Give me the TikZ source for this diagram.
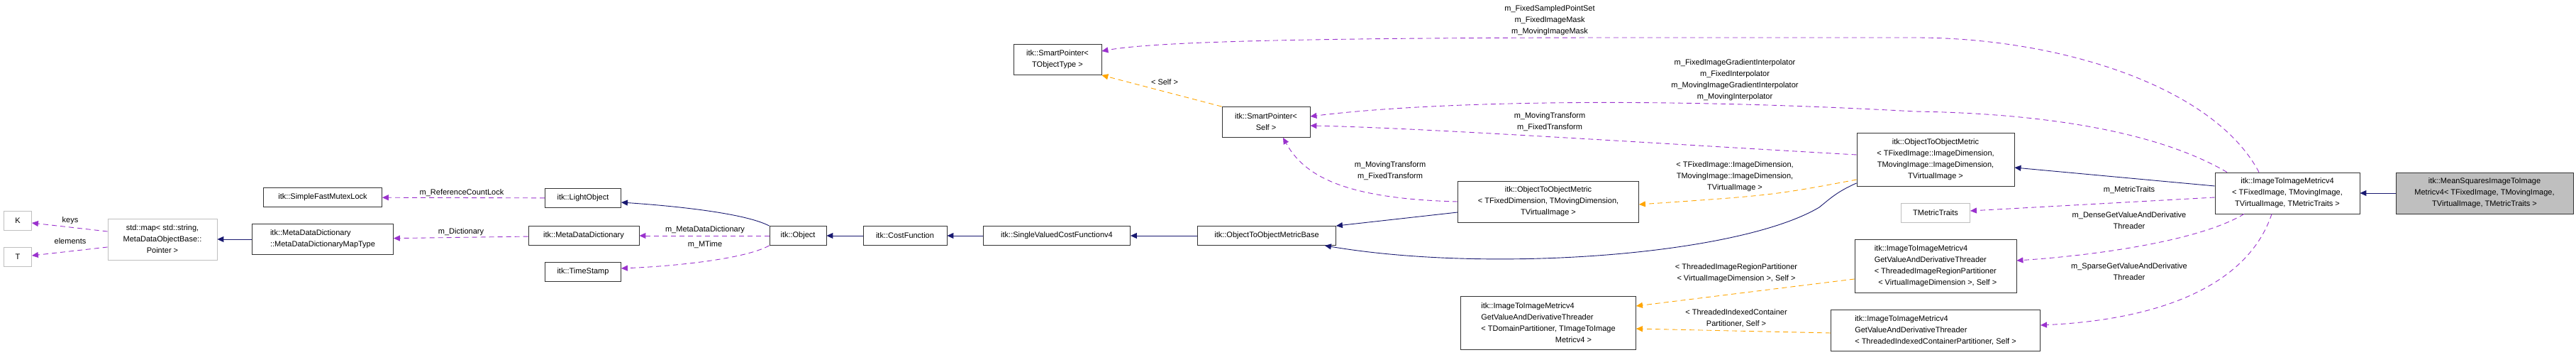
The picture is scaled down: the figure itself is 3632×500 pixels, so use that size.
\documentclass[tikz,border=0pt]{standalone}
\usepackage{fontspec}
\setmainfont{Liberation Sans}
\usetikzlibrary{arrows.meta}
\definecolor{edgeblue}{HTML}{191970}
\definecolor{edgepurple}{HTML}{9A32CD}
\definecolor{edgeorange}{HTML}{FFA500}
\tikzset{
  cls/.style={draw=black!80, fill=white, line width=0.8pt, inner sep=2pt, align=center,
    font=\fontsize{11}{16}\selectfont},
  ext/.style={cls, draw=black!25},
  cur/.style={cls, fill=black!25},
  lbl/.style={inner sep=0pt, align=center, font=\fontsize{11}{16}\selectfont},
  inh/.style={draw=edgeblue, line width=0.9pt, -{Triangle[length=9pt,width=8pt]}},
  use/.style={draw=edgepurple, line width=0.9pt, dash pattern=on 7pt off 5pt,
    -{Triangle[length=9pt,width=8pt,fill=edgepurple]}},
  tpl/.style={draw=edgeorange, line width=0.9pt, dash pattern=on 7pt off 5pt,
    -{Triangle[length=9pt,width=8pt,fill=edgeorange]}}
}
\begin{document}
\begin{tikzpicture}[x=1pt,y=-1pt]
  \useasboundingbox (0,0) rectangle (3632,500);

  % classes
  \node[ext, minimum width=39pt, minimum height=27pt] (K) at (25,311) {K};
  \node[ext, minimum width=39pt, minimum height=27pt] (T) at (25,362) {T};
  \node[ext, minimum width=154pt, minimum height=58pt] (map) at (229,337)
    {std::map\textless{} std::string,\\MetaDataObjectBase::\\Pointer \textgreater{}};
  \node[cls, minimum width=199pt, minimum height=43pt, align=left] (mapt) at (455,337)
    {itk::MetaDataDictionary\\::MetaDataDictionaryMapType};
  \node[cls, minimum width=167pt, minimum height=27pt] (mutex) at (455,278) {itk::SimpleFastMutexLock};
  \node[cls, minimum width=107pt, minimum height=27pt] (light) at (822,279) {itk::LightObject};
  \node[cls, minimum width=156pt, minimum height=27pt] (mdd) at (823,332) {itk::MetaDataDictionary};
  \node[cls, minimum width=107pt, minimum height=27pt] (stamp) at (822,383) {itk::TimeStamp};
  \node[cls, minimum width=80pt, minimum height=27pt] (obj) at (1125,332) {itk::Object};
  \node[cls, minimum width=118pt, minimum height=27pt] (cost) at (1276,332) {itk::CostFunction};
  \node[cls, minimum width=207pt, minimum height=27pt] (svcf) at (1490,332) {itk::SingleValuedCostFunctionv4};
  \node[cls, minimum width=195pt, minimum height=27pt] (base) at (1786,332) {itk::ObjectToObjectMetricBase};
  \node[cls, minimum width=124pt, minimum height=43pt] (spt) at (1491,84)
    {itk::SmartPointer\textless\\TObjectType \textgreater};
  \node[cls, minimum width=124pt, minimum height=43pt] (sps) at (1785,172)
    {itk::SmartPointer\textless\\Self \textgreater};
  \node[cls, minimum width=255pt, minimum height=58pt] (otomd) at (2183,284)
    {itk::ObjectToObjectMetric\\\textless{} TFixedDimension, TMovingDimension,\\TVirtualImage \textgreater};
  \node[cls, minimum width=247pt, minimum height=75pt, align=left] (gen) at (2183,455)
    {itk::ImageToImageMetricv4\\GetValueAndDerivativeThreader\\\textless{} TDomainPartitioner, TImageToImage\\\hphantom{xxxxxxxxxxxxxxxxxxx}Metricv4 \textgreater};
  \node[cls, minimum width=222pt, minimum height=75pt] (otomi) at (2729,225)
    {itk::ObjectToObjectMetric\\\textless{} TFixedImage::ImageDimension,\\TMovingImage::ImageDimension,\\TVirtualImage \textgreater};
  \node[ext, minimum width=97pt, minimum height=27pt] (traits) at (2729,300) {TMetricTraits};
  \node[cls, minimum width=228pt, minimum height=75pt, align=left] (dense) at (2729,375)
    {itk::ImageToImageMetricv4\\GetValueAndDerivativeThreader\\\textless{} ThreadedImageRegionPartitioner\\\hphantom{x}\textless{} VirtualImageDimension \textgreater, Self \textgreater};
  \node[cls, minimum width=295pt, minimum height=58pt, align=left] (sparse) at (2729,465)
    {itk::ImageToImageMetricv4\\GetValueAndDerivativeThreader\\\textless{} ThreadedIndexedContainerPartitioner, Self \textgreater};
  \node[cls, minimum width=204pt, minimum height=58pt] (i2i) at (3225,272)
    {itk::ImageToImageMetricv4\\\textless{} TFixedImage, TMovingImage,\\TVirtualImage, TMetricTraits \textgreater};
  \node[cur, minimum width=250pt, minimum height=58pt] (ms) at (3503,272)
    {itk::MeanSquaresImageToImage\\Metricv4\textless{} TFixedImage, TMovingImage,\\TVirtualImage, TMetricTraits \textgreater};

  % inheritance
  \draw[inh] (mapt) -- (map);
  \draw[inh] (obj.north west) .. controls (1050,300) and (950,290) .. ([yshift=-6pt]light.east);
  \draw[inh] (cost) -- (obj);
  \draw[inh] (svcf) -- (cost);
  \draw[inh] (base) -- (svcf);
  \draw[inh] ([yshift=-15pt]otomd.west) -- (base.north east);
  \draw[inh] ([yshift=5pt]otomi.south west) .. controls (2590,270) and (2580,280) .. (2565,292)
    .. controls (2450,360) and (2100,385) .. ([xshift=-16pt]base.south east);
  \draw[inh] ([yshift=10pt]i2i.west) -- ([yshift=-11pt]otomi.east);
  \draw[inh] (ms) -- (i2i);

  % members
  \draw[use] ([yshift=11pt]map.west) -- ([yshift=-3pt]K.east);
  \node[lbl] at (99,311) {keys};
  \draw[use] ([yshift=-11pt]map.west) -- ([yshift=2pt]T.east);
  \node[lbl] at (99,340) {elements};
  \draw[use] (mdd) -- (mapt);
  \node[lbl] at (650,327) {m\_Dictionary};
  \draw[use] (light) -- (mutex);
  \node[lbl] at (651,272) {m\_ReferenceCountLock};
  \draw[use] (obj) -- (mdd);
  \node[lbl] at (994,324) {m\_MetaDataDictionary};
  \draw[use] (obj.south west) .. controls (1050,365) and (950,375) .. ([yshift=5pt]stamp.east);
  \node[lbl] at (994,345) {m\_MTime};
  \draw[use] ([xshift=-40pt]i2i.north) .. controls (3120,120) and (2900,53) .. (2700,53)
    -- (2300,53) .. controls (1800,53) and (1620,60) .. ([yshift=12pt]spt.east);
  \node[lbl] at (2185,29) {m\_FixedSampledPointSet\\m\_FixedImageMask\\m\_MovingImageMask};
  \draw[use] ([xshift=-85pt]i2i.north) .. controls (3050,190) and (2900,160) .. (2700,157)
    .. controls (2300,135) and (2000,145) .. ([yshift=8pt]sps.east);
  \node[lbl] at (2446,113) {m\_FixedImageGradientInterpolator\\m\_FixedInterpolator\\m\_MovingImageGradientInterpolator\\m\_MovingInterpolator};
  \draw[use] ([yshift=7pt]otomi.west) .. controls (2300,200) and (2000,180) .. ([yshift=-5pt]sps.east);
  \node[lbl] at (2185,172) {m\_MovingTransform\\m\_FixedTransform};
  \draw[use] (otomd.west) .. controls (1900,280) and (1840,250) .. ([xshift=24pt]sps.south);
  \node[lbl] at (1960,241) {m\_MovingTransform\\m\_FixedTransform};
  \draw[use] ([yshift=-6pt]i2i.west) -- ([yshift=3pt]traits.east);
  \node[lbl] at (3002,268) {m\_MetricTraits};
  \draw[use] ([xshift=-61pt]i2i.south) .. controls (3100,340) and (2950,360) .. ([yshift=8pt]dense.east);
  \node[lbl] at (3002,311) {m\_DenseGetValueAndDerivative\\Threader};
  \draw[use] ([xshift=-22pt]i2i.south) .. controls (3170,400) and (3050,450) .. ([yshift=7pt]sparse.east);
  \node[lbl] at (3002,383) {m\_SparseGetValueAndDerivative\\Threader};

  % template instances
  \draw[tpl] (sps.north west) -- (spt.south east);
  \node[lbl] at (1642,116) {\textless{} Self \textgreater};
  \draw[tpl] ([yshift=-28pt]otomi.west) .. controls (2500,275) .. ([yshift=-4pt]otomd.east);
  \node[lbl] at (2446,249) {\textless{} TFixedImage::ImageDimension,\\TMovingImage::ImageDimension,\\TVirtualImage \textgreater};
  \draw[tpl] ([yshift=-18pt]dense.west) -- ([yshift=24pt]gen.east);
  \node[lbl] at (2448,385) {\textless{} ThreadedImageRegionPartitioner\\\textless{} VirtualImageDimension \textgreater, Self \textgreater};
  \draw[tpl] ([yshift=-4pt]sparse.west) -- ([yshift=-8pt]gen.east);
  \node[lbl] at (2448,448) {\textless{} ThreadedIndexedContainer\\Partitioner, Self \textgreater};
\end{tikzpicture}
\end{document}
